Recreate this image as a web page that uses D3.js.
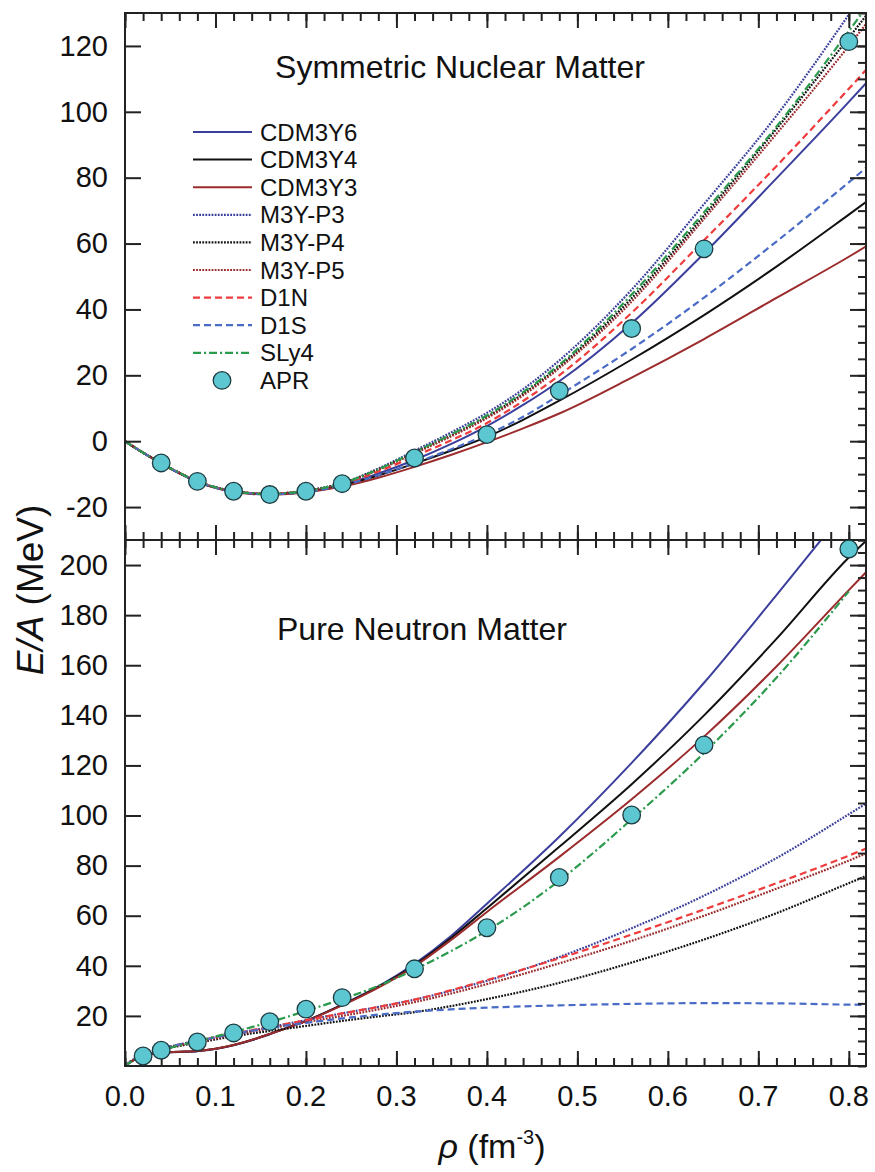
<!DOCTYPE html>
<html>
<head>
<meta charset="utf-8">
<script src="https://d3js.org/d3.v7.min.js"></script>
<style>
body { margin: 0; background: #fff; }
text { font-family: "Liberation Sans", Arial, Helvetica, sans-serif; fill: #111; }
</style>
</head>
<body>
<div id="chart"></div>
<script>
// densidades (fm^-3)
var rhoSNM = [0, 0.02, 0.04, 0.06, 0.08, 0.1, 0.12, 0.14, 0.16, 0.18, 0.2, 0.24, 0.28, 0.32, 0.36, 0.4, 0.44, 0.48, 0.56, 0.64, 0.72, 0.8, 0.82]
var rhoPNM = [0, 0.01, 0.02, 0.04, 0.06, 0.08, 0.1, 0.12, 0.14, 0.16, 0.18, 0.2, 0.24, 0.28, 0.32, 0.36, 0.4, 0.48, 0.56, 0.64, 0.72, 0.8, 0.82]

// materia nuclear simetrica
var snmCDM3Y6 = [0, -3.5, -6.7, -9.7, -12.3, -14.1, -15.3, -15.9, -16.1, -15.9, -15.3, -13.3, -9.8, -5.7, -0.9, 4.6, 11.0, 18.2, 35.8, 57.0, 79.8, 103.0, 109.0]
var snmCDM3Y4 = [0, -3.5, -6.7, -9.7, -12.3, -14.1, -15.3, -15.9, -16.1, -15.9, -15.4, -13.5, -10.4, -6.8, -2.9, 1.3, 6.5, 12.3, 24.8, 38.3, 53.0, 68.8, 72.8]
var snmCDM3Y3 = [0, -3.5, -6.8, -9.8, -12.4, -14.2, -15.4, -16.0, -16.2, -16.0, -15.5, -13.8, -11.1, -7.8, -4.2, -0.3, 3.9, 8.4, 19.3, 31.0, 43.5, 56.0, 59.3]
var snmM3YP3 = [0, -3.5, -6.7, -9.6, -12.2, -14.0, -15.2, -15.8, -16.0, -15.7, -15.0, -12.7, -8.3, -2.9, 2.6, 8.6, 15.8, 24.5, 46.0, 72.0, 98.8, 129.5, 137.5]
var snmM3YP4 = [0, -3.5, -6.7, -9.6, -12.2, -14.0, -15.2, -15.8, -16.0, -15.7, -15.1, -12.8, -8.6, -3.5, 1.7, 7.4, 14.4, 22.7, 43.4, 68.5, 94.8, 122.5, 129.5]
var snmM3YP5 = [0, -3.5, -6.7, -9.6, -12.2, -14.0, -15.2, -15.8, -16.0, -15.7, -15.1, -12.9, -8.7, -3.7, 1.4, 7.0, 13.9, 22.2, 42.4, 67.5, 93.3, 120.0, 127.0]
var snmD1N = [0, -3.5, -6.7, -9.6, -12.2, -14.0, -15.2, -15.8, -16.0, -15.8, -15.2, -13.1, -9.2, -4.6, 0.2, 5.5, 12.2, 20.0, 39.0, 61.0, 83.5, 107.0, 113.0]
var snmD1S = [0, -3.5, -6.7, -9.7, -12.3, -14.1, -15.3, -15.9, -16.1, -15.9, -15.4, -13.5, -10.3, -6.6, -2.5, 2.0, 7.4, 14.0, 28.0, 43.6, 60.6, 78.6, 83.2]
var snmSLy4 = [0, -3.5, -6.7, -9.6, -12.2, -14.0, -15.2, -15.8, -16.0, -15.7, -15.1, -12.8, -8.5, -3.3, 2.0, 7.8, 14.9, 23.2, 44.5, 69.5, 95.5, 124.5, 132.0]

// materia pura de neutrones
var pnmCDM3Y6 = [0, 2.4, 4.0, 5.3, 5.6, 5.9, 6.8, 8.3, 10.3, 12.7, 15.3, 18.0, 24.5, 31.8, 40.8, 51.8, 64.8, 91.5, 121.0, 153.0, 188.0, 223.5, 232.0]
var pnmCDM3Y4 = [0, 2.4, 4.0, 5.4, 5.7, 6.0, 6.9, 8.4, 10.4, 12.8, 15.3, 18.0, 24.4, 31.6, 40.3, 51.0, 63.0, 87.5, 112.5, 140.0, 170.5, 203.0, 210.0]
var pnmCDM3Y3 = [0, 2.4, 4.0, 5.4, 5.7, 6.0, 6.9, 8.4, 10.4, 12.8, 15.2, 17.9, 24.2, 31.3, 39.8, 50.2, 61.5, 83.5, 106.5, 131.5, 159.5, 190.0, 197.5]
var pnmM3YP3 = [0, 2.8, 4.5, 7.0, 8.6, 10.0, 11.4, 12.8, 14.2, 15.5, 16.9, 18.3, 21.0, 23.6, 26.5, 30.0, 34.0, 43.5, 55.0, 68.0, 83.0, 100.5, 105.0]
var pnmM3YP4 = [0, 2.6, 4.1, 6.5, 8.0, 9.3, 10.6, 11.8, 13.0, 14.0, 15.0, 16.0, 18.0, 19.8, 21.5, 23.9, 26.7, 33.2, 41.3, 50.5, 61.0, 73.0, 76.0]
var pnmM3YP5 = [0, 2.7, 4.3, 6.8, 8.3, 9.7, 11.0, 12.4, 13.7, 15.0, 16.2, 17.5, 20.0, 22.6, 25.5, 28.9, 32.7, 41.0, 50.0, 60.0, 70.8, 82.0, 85.0]
var pnmD1N = [0, 2.8, 4.5, 7.0, 8.6, 10.0, 11.5, 13.0, 14.3, 15.5, 16.9, 18.3, 21.0, 23.6, 26.5, 30.2, 34.3, 43.0, 52.5, 62.5, 73.0, 84.0, 87.0]
var pnmD1S = [0, 2.8, 4.5, 7.0, 8.6, 10.0, 11.4, 12.8, 14.0, 15.2, 16.3, 17.2, 19.0, 20.5, 21.7, 22.6, 23.3, 24.2, 24.8, 25.1, 25.0, 24.5, 24.4]
var pnmSLy4 = [0, 2.4, 3.8, 6.3, 8.2, 10.0, 11.8, 13.5, 15.5, 17.5, 19.7, 22.0, 26.7, 32.0, 38.5, 45.8, 54.0, 74.0, 98.5, 125.0, 155.0, 189.5, null]

// APR
var aprRhoSNM = [0.04, 0.08, 0.12, 0.16, 0.2, 0.24, 0.32, 0.4, 0.48, 0.56, 0.64, 0.8]
var aprSNM = [-6.6, -12.2, -15.2, -16.2, -15.2, -12.9, -5.1, 2.0, 15.3, 34.2, 58.4, 121.3]
var aprRhoPNM = [0.02, 0.04, 0.08, 0.12, 0.16, 0.2, 0.24, 0.32, 0.4, 0.48, 0.56, 0.64, 0.8]
var aprPNM = [4.0, 6.3, 9.6, 13.2, 17.7, 22.7, 27.3, 38.8, 55.2, 75.3, 100.2, 128.2, 206.4]

var nombres = ["CDM3Y6", "CDM3Y4", "CDM3Y3", "M3Y-P3", "M3Y-P4", "M3Y-P5", "D1N", "D1S", "SLy4"]
var ticksX = [0, 0.1, 0.2, 0.3, 0.4, 0.5, 0.6, 0.7, 0.8]
var ticksSNM = [-20, 0, 20, 40, 60, 80, 100, 120]
var ticksPNM = [20, 40, 60, 80, 100, 120, 140, 160, 180, 200]

var azul = "#3b3f9c", rojo = "#9b2b2c"
var estilos = [
    {color: azul, dash: null, w: 2},
    {color: "#111", dash: null, w: 2},
    {color: rojo, dash: null, w: 2},
    {color: azul, dash: "1.8,1.3", w: 2.2},
    {color: "#111", dash: "1.8,1.3", w: 2.2},
    {color: rojo, dash: "1.8,1.3", w: 2.2},
    {color: "#ef3b3b", dash: "7,4", w: 2.2},
    {color: "#4a6cc6", dash: "7,4", w: 2.2},
    {color: "#2c9a4c", dash: "8,3,2,3", w: 2.2}
]
var snmSeries = [snmCDM3Y6, snmCDM3Y4, snmCDM3Y3, snmM3YP3, snmM3YP4, snmM3YP5, snmD1N, snmD1S, snmSLy4]
var pnmSeries = [pnmCDM3Y6, pnmCDM3Y4, pnmCDM3Y3, pnmM3YP3, pnmM3YP4, pnmM3YP5, pnmD1N, pnmD1S, pnmSLy4]

var ancho = 875, alto = 1172
var izq = 125, der = 866, arriba = 13, medio = 540, abajo = 1066

var svg = d3.select("#chart").append("svg")
    .attr("width", ancho)
    .attr("height", alto)

var escalaX = d3.scaleLinear().domain([0, 0.819]).range([izq, der])
var escalaSNM = d3.scaleLinear().domain([-30, 130]).range([medio, arriba])
var escalaPNM = d3.scaleLinear().domain([0, 210]).range([abajo, medio])

function menores(paso, a, b) {
    var t = []
    for (var v = a; v <= b + 1e-9; v += paso) t.push(+v.toFixed(4))
    return t
}

function panel(id, escalaY, rhos, series, apr, aprRho, y0, y1, ticksY) {
    svg.append("clipPath").attr("id", id)
        .append("rect").attr("x", izq).attr("y", y0).attr("width", der - izq).attr("height", y1 - y0)

    var g = svg.append("g").attr("clip-path", "url(#" + id + ")")

    series.forEach(function(s, i) {
        var pts = rhos.map(function(r, j) { return [r, s[j]] })
        var linea = d3.line()
            .defined(function(d) { return d[1] != null })
            .x(function(d) { return escalaX(d[0]) })
            .y(function(d) { return escalaY(d[1]) })
            .curve(d3.curveMonotoneX)
        g.append("path")
            .attr("d", linea(pts))
            .attr("fill", "none")
            .attr("stroke", estilos[i].color)
            .attr("stroke-width", estilos[i].w)
            .attr("stroke-dasharray", estilos[i].dash)
    })

    // ejes
    var dom = escalaY.domain()
    var ejeIzq = svg.append("g").attr("transform", "translate(" + izq + ",0)")
    ejeIzq.call(d3.axisLeft(escalaY).tickValues(menores(5, dom[0], dom[1])).tickSize(-8).tickFormat(""))
    ejeIzq.call(d3.axisLeft(escalaY).tickValues(ticksY).tickSize(-16).tickPadding(17).tickFormat(function(d) { return String(d) }))

    var ejeDer = svg.append("g").attr("transform", "translate(" + der + ",0)")
    ejeDer.call(d3.axisRight(escalaY).tickValues(menores(5, dom[0], dom[1])).tickSize(-8).tickFormat(""))
    ejeDer.append("g").call(d3.axisRight(escalaY).tickValues(ticksY).tickSize(-16).tickFormat(""))

    var menX = menores(0.02, 0, 0.81)
    var ejeArr = svg.append("g").attr("transform", "translate(0," + y0 + ")")
    ejeArr.call(d3.axisTop(escalaX).tickValues(menX).tickSize(-8).tickFormat(""))
    ejeArr.append("g").call(d3.axisTop(escalaX).tickValues(ticksX).tickSize(-15).tickFormat(""))

    var ejeAba = svg.append("g").attr("transform", "translate(0," + y1 + ")")
    ejeAba.call(d3.axisBottom(escalaX).tickValues(menX).tickSize(-8).tickFormat(""))
    ejeAba.append("g").call(d3.axisBottom(escalaX).tickValues(ticksX).tickSize(-15).tickFormat(""))

    svg.selectAll(".domain").remove()

    svg.append("rect")
        .attr("x", izq).attr("y", y0).attr("width", der - izq).attr("height", y1 - y0)
        .attr("fill", "none").attr("stroke", "#222").attr("stroke-width", 2)

    svg.append("g").selectAll("circle")
        .data(aprRho.map(function(r, j) { return [r, apr[j]] }))
        .enter()
        .append("circle")
        .attr("cx", function(d) { return escalaX(d[0]) })
        .attr("cy", function(d) { return escalaY(d[1]) })
        .attr("r", 8.8)
        .attr("fill", "#5cc7d1")
        .attr("stroke", "#1d3b40")
        .attr("stroke-width", 1.3)
}

panel("clipSNM", escalaSNM, rhoSNM, snmSeries, aprSNM, aprRhoSNM, arriba, medio, ticksSNM)
panel("clipPNM", escalaPNM, rhoPNM, pnmSeries, aprPNM, aprRhoPNM, medio, abajo, ticksPNM)

svg.selectAll(".tick line").attr("stroke", "#222").attr("stroke-width", 2)
svg.selectAll(".tick text").attr("font-size", 29).attr("fill", "#111")
    .style("font-family", "'Liberation Sans', Arial, Helvetica, sans-serif")

// etiquetas eje x
svg.append("g")
    .selectAll("text")
    .data(ticksX)
    .enter()
    .append("text")
    .attr("x", function(d) { return escalaX(d) })
    .attr("y", 1106)
    .attr("text-anchor", "middle")
    .attr("font-size", 29)
    .text(function(d) { return d.toFixed(1) })

// titulos
svg.append("text").attr("x", 460).attr("y", 78).attr("text-anchor", "middle")
    .attr("font-size", 32).text("Symmetric Nuclear Matter")
svg.append("text").attr("x", 277).attr("y", 640)
    .attr("font-size", 32).text("Pure Neutron Matter")

var ty = svg.append("text")
    .attr("transform", "translate(43,590) rotate(-90)")
    .attr("text-anchor", "middle")
    .attr("font-size", 37)
ty.append("tspan").attr("font-style", "italic").text("E/A")
ty.append("tspan").text(" (MeV)")

var tx = svg.append("text")
    .attr("x", 492).attr("y", 1158)
    .attr("text-anchor", "middle")
    .attr("font-size", 34)
tx.append("tspan").attr("font-style", "italic").text("ρ")
tx.append("tspan").text(" (fm")
tx.append("tspan").attr("font-size", 20).attr("dy", -14).text("-3")
tx.append("tspan").attr("dy", 14).text(")")

// leyenda
var leyenda = svg.append("g")
nombres.forEach(function(n, i) {
    var yy = 132 + 27.6 * i
    leyenda.append("line")
        .attr("x1", 193).attr("x2", 252).attr("y1", yy).attr("y2", yy)
        .attr("stroke", estilos[i].color)
        .attr("stroke-width", estilos[i].w)
        .attr("stroke-dasharray", estilos[i].dash)
    leyenda.append("text").attr("x", 260).attr("y", yy).attr("dy", "0.36em")
        .attr("font-size", 24).text(n)
})
var yApr = 132 + 27.6 * 9
leyenda.append("circle").attr("cx", 222).attr("cy", yApr).attr("r", 8.8)
    .attr("fill", "#5cc7d1").attr("stroke", "#1d3b40").attr("stroke-width", 1.3)
leyenda.append("text").attr("x", 260).attr("y", yApr).attr("dy", "0.36em")
    .attr("font-size", 24).text("APR")
</script>
</body>
</html>
